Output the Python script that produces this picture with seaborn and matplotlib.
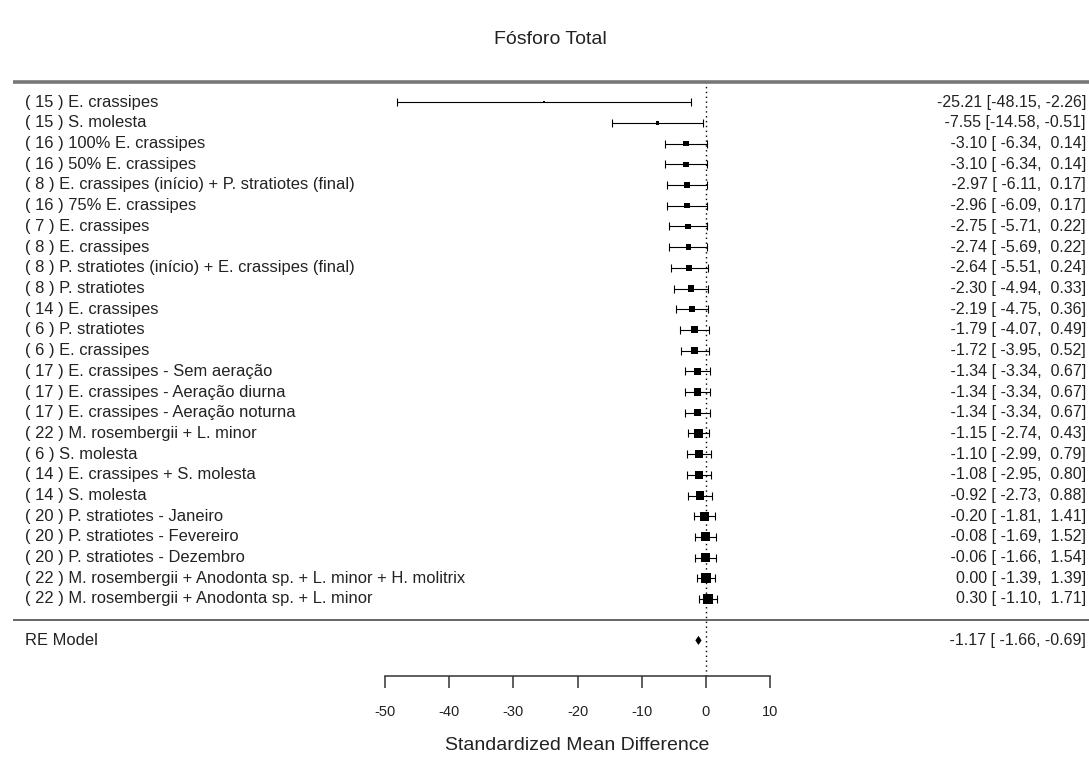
import numpy as np
import pandas as pd
import seaborn as sns
import matplotlib.pyplot as plt

# study labels, top to bottom
labels = [
    "( 15 ) E. crassipes",
    "( 15 ) S. molesta",
    "( 16 ) 100% E. crassipes",
    "( 16 ) 50% E. crassipes",
    "( 8 ) E. crassipes (início) + P. stratiotes (final)",
    "( 16 ) 75% E. crassipes",
    "( 7 ) E. crassipes",
    "( 8 ) E. crassipes",
    "( 8 ) P. stratiotes (início) + E. crassipes (final)",
    "( 8 ) P. stratiotes",
    "( 14 ) E. crassipes",
    "( 6 ) P. stratiotes",
    "( 6 ) E. crassipes",
    "( 17 ) E. crassipes - Sem aeração",
    "( 17 ) E. crassipes - Aeração diurna",
    "( 17 ) E. crassipes - Aeração noturna",
    "( 22 ) M. rosembergii + L. minor",
    "( 6 ) S. molesta",
    "( 14 ) E. crassipes + S. molesta",
    "( 14 ) S. molesta",
    "( 20 ) P. stratiotes - Janeiro",
    "( 20 ) P. stratiotes - Fevereiro",
    "( 20 ) P. stratiotes - Dezembro",
    "( 22 ) M. rosembergii + Anodonta sp. + L. minor + H. molitrix",
    "( 22 ) M. rosembergii + Anodonta sp. + L. minor",
]
est = [-25.21, -7.55, -3.10, -3.10, -2.97, -2.96, -2.75, -2.74, -2.64, -2.30,
       -2.19, -1.79, -1.72, -1.34, -1.34, -1.34, -1.15, -1.10, -1.08, -0.92,
       -0.20, -0.08, -0.06, 0.00, 0.30]
ci_lo = [-48.15, -14.58, -6.34, -6.34, -6.11, -6.09, -5.71, -5.69, -5.51, -4.94,
         -4.75, -4.07, -3.95, -3.34, -3.34, -3.34, -2.74, -2.99, -2.95, -2.73,
         -1.81, -1.69, -1.66, -1.39, -1.10]
ci_hi = [-2.26, -0.51, 0.14, 0.14, 0.17, 0.17, 0.22, 0.22, 0.24, 0.33,
         0.36, 0.49, 0.52, 0.67, 0.67, 0.67, 0.43, 0.79, 0.80, 0.88,
         1.41, 1.52, 1.54, 1.39, 1.71]
re_label = "RE Model"
re_est, re_lo, re_hi = -1.17, -1.66, -0.69
xticks = [-50, -40, -30, -20, -10, 0, 10]

sns.set_style("ticks")
plt.rcParams['font.family'] = ['Liberation Sans', 'DejaVu Sans']
txt_col = '#222222'

k = len(labels)
df = pd.DataFrame({'label': labels, 'est': est, 'lo': ci_lo, 'hi': ci_hi})
df['row'] = np.arange(k, 0, -1)

# square size like metafor: linear in 1/se, scaled to 0.5 .. 2
se = (df['hi'] - df['lo']) / (2 * 1.96)
w = 1 / se
ps = 0.5 + 1.5 * (w - w.min()) / (w.max() - w.min())
df['area'] = (3.6 * ps) ** 2

W, H = 1089, 757
fig = plt.figure(figsize=(W / 100, H / 100), dpi=100)
ax = fig.add_axes([0, 81 / H, 1, 676 / H])

pxu = 6.42          # pixels per unit
x0 = 706            # pixel of zero
rowpx = 20.7
xmin, xmax = -x0 / pxu, (W - x0) / pxu
ymin, ymax = 1 - 77 / rowpx, 1 + 599 / rowpx

ax.errorbar(df['est'], df['row'], xerr=[df['est'] - df['lo'], df['hi'] - df['est']],
            fmt='none', ecolor='black', elinewidth=0.8, capsize=2.6, capthick=0.8, zorder=2)
sns.scatterplot(data=df, x='est', y='row', size='area',
                sizes=(df['area'].min(), df['area'].max()),
                marker='s', color='black', edgecolor='none', linewidth=0,
                legend=False, ax=ax, zorder=3)

# summary diamond
ax.fill([re_lo, re_est, re_hi, re_est], [-1, -1 + 0.22, -1, -1 - 0.22],
        color='black', lw=0, zorder=3)

# separators and reference line
xl = (13 - x0) / pxu
ax.plot([xl, xmax], [k + 1, k + 1], color='#777777', lw=2.6, solid_capstyle='butt')
ax.plot([xl, xmax], [0, 0], color='#666666', lw=1.4, solid_capstyle='butt')
ax.plot([0, 0], [ymin, k + 1], color='black', lw=1, ls=(0, (1, 2.5)), zorder=1)

# labels and annotations
lab_x = (25 - x0) / pxu
ann_x = (1086 - x0) / pxu
all_est = list(est) + [re_est]
all_lo = list(ci_lo) + [re_lo]
all_hi = list(ci_hi) + [re_hi]
we = max(len(f"{v:.2f}") for v in all_est)
wl = max(len(f"{v:.2f}") for v in all_lo)
wh = max(len(f"{v:.2f}") for v in all_hi)


def ann(e, lo, hi):
    return f"{e:.2f}".rjust(we) + " [" + f"{lo:.2f}".rjust(wl) + ", " + f"{hi:.2f}".rjust(wh) + "]"


for _, r in df.iterrows():
    ax.text(lab_x, r['row'], r['label'], ha='left', va='center', fontsize=11.9, color=txt_col)
    ax.text(ann_x, r['row'], ann(r['est'], r['lo'], r['hi']), ha='right', va='center',
            fontsize=11.5, color=txt_col)
ax.text(lab_x, -1, re_label, ha='left', va='center', fontsize=11.9, color=txt_col)
ax.text(ann_x, -1, ann(re_est, re_lo, re_hi), ha='right', va='center', fontsize=11.5, color=txt_col)

ax.set_xlim(xmin, xmax)
ax.set_ylim(ymin, ymax)
sns.despine(ax=ax, left=True)
ax.spines['bottom'].set_bounds(xticks[0], xticks[-1])
ax.spines['bottom'].set_color('#333333')
ax.spines['bottom'].set_linewidth(1.1)
ax.set_yticks([])
ax.set_xticks(xticks)
ax.set_xticklabels([str(t) for t in xticks])
ax.tick_params(axis='x', direction='out', length=8.6, width=1.1, color='#333333',
               labelsize=10.5, labelcolor=txt_col, pad=12)
ax.set_ylabel('')
ax.set_xlabel('Standardized Mean Difference', fontsize=14, color=txt_col)
ax.xaxis.set_label_coords((-20 - xmin) / (xmax - xmin), -(737 - 676) / 676)

fig.text(0.505, 1 - 40 / H, 'Fósforo Total', ha='center', va='center', fontsize=14, color=txt_col)

fig.savefig('out.png', dpi=100)
